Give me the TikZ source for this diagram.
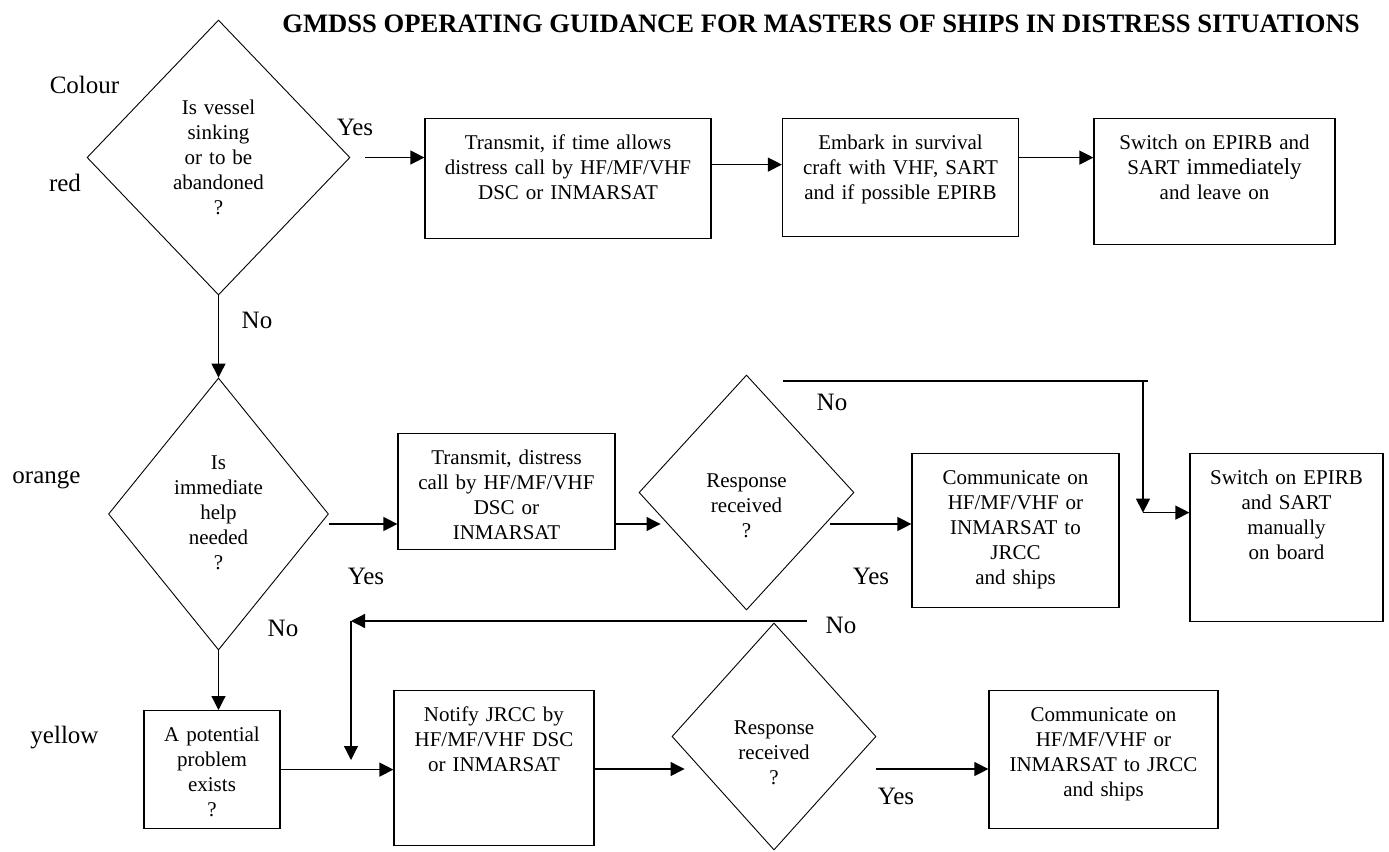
\documentclass[tikz,border=0pt]{standalone}
\usepackage{fontspec}
\setmainfont{Liberation Serif}
\usetikzlibrary{shapes.geometric,arrows.meta}

\begin{document}
\begin{tikzpicture}[x=0.5pt,y=-0.5pt,line width=0.6pt,
    >={Triangle[length=7pt,width=7pt]},
    box/.style={draw,rectangle,anchor=north,inner sep=0pt,text height=15.5pt,
      align=center,font=\fontsize{10.5}{12.5}\selectfont},
    ask/.style={draw,diamond,inner sep=0pt,line width=0.45pt,text height=5pt,
      text width=50pt,align=center,font=\fontsize{10.5}{12.5}\selectfont},
    tag/.style={inner sep=0pt,font=\fontsize{12.5}{15}\selectfont}]
    \useasboundingbox (0,0) rectangle (1389,852);

    \node[font=\bfseries\fontsize{13.3}{16}\selectfont] (title) at (821,24)
      {GMDSS OPERATING GUIDANCE FOR MASTERS OF SHIPS IN DISTRESS SITUATIONS};

    \node[tag] (colour) at (84.5,85) {Colour};
    \node[tag] (red) at (65,183) {red};
    \node[tag] (orange) at (46.5,480) {orange};
    \node[tag] (yellow) at (64.5,738) {yellow};

    \node[ask,minimum width=131.5pt,minimum height=137.5pt,text depth=48.5pt] (d1) at (218.5,157.5)
      {Is vessel\\sinking\\or to be\\abandoned\\?};
    \node[ask,minimum width=110pt,minimum height=136pt,text depth=50pt] (d2) at (218.5,514)
      {Is\\immediate\\help\\needed\\?};
    \node[ask,minimum width=107.5pt,minimum height=117.5pt,text depth=10.5pt] (d3) at (746.5,492.5)
      {Response\\received\\?};
    \node[ask,minimum width=102pt,minimum height=113.5pt,text depth=7.5pt] (d4) at (774,736.5)
      {Response\\received\\?};

    \node[box,text width=143pt,text depth=44.5pt] (t1) at (568,118)
      {Transmit, if time allows\\distress call by HF/MF/VHF\\DSC or INMARSAT};
    \node[box,text width=118pt,text depth=43.5pt] (e) at (900.5,118)
      {Embark in survival\\craft with VHF, SART\\and if possible EPIRB};
    \node[box,text width=120.5pt,text depth=47.5pt] (s) at (1214.5,118)
      {Switch on EPIRB and\\SART {\fontsize{11.5}{12.5}\selectfont immediately}\\and leave on};
    \node[box,text width=108.5pt,text depth=42.5pt] (t2) at (506.5,433)
      {Transmit, distress\\call by HF/MF/VHF\\DSC or\\INMARSAT};
    \node[box,text width=103.5pt,text depth=61.5pt] (c1) at (1015.5,453)
      {Communicate on\\HF/MF/VHF or\\INMARSAT to\\JRCC\\and ships};
    \node[box,text width=96.5pt,text depth=68.5pt] (s2) at (1286.5,453)
      {Switch on EPIRB\\and SART\\manually\\on board};
    \node[box,text width=68pt,text depth=43.5pt] (p) at (212,710)
      {A potential\\problem\\exists\\?};
    \node[box,text width=100pt,text depth=62pt] (n) at (494,690)
      {Notify JRCC by\\HF/MF/VHF DSC\\or INMARSAT};
    \node[box,text width=114.5pt,text depth=53.5pt] (c2) at (1103.5,690)
      {Communicate on\\HF/MF/VHF or\\INMARSAT to JRCC\\and ships};

    \node[tag] (yes1) at (355,127) {Yes};
    \node[tag] (yes2) at (366,576) {Yes};
    \node[tag] (yes3) at (871,576) {Yes};
    \node[tag] (yes4) at (896,796) {Yes};
    \node[tag] (no1) at (257,320) {No};
    \node[tag] (no2) at (283,628) {No};
    \node[tag] (no3) at (832,402) {No};
    \node[tag] (no4) at (841,625) {No};

    \coordinate (row2) at (0,524);
    \coordinate (row3) at (0,769);
    \coordinate (d3in) at ([xshift=11pt]d3.west);
    \coordinate (d3out) at ([xshift=-12pt]d3.east);
    \coordinate (d4in) at ([xshift=6.5pt]d4.west);
    \coordinate (s2in) at ([yshift=12.5pt]s2.west);
    \coordinate (up1) at (783,381);
    \coordinate (up2) at (1143,381);
    \coordinate (lp1) at (807,621);
    \coordinate (lp2) at (351,621);
    \coordinate (lp3) at (351,760);

    \draw[->] ([xshift=7.5pt]d1.east) -- (d1.east -| t1.west);
    \draw[->] ([yshift=7pt]t1.east) -- ([yshift=7pt]t1.east -| e.west);
    \draw[->] ([yshift=10pt]e.east) -- ([yshift=10pt]e.east -| s.west);
    \draw[->] (d1.south) -- (d2.north);
    \draw[->] (d2.east |- row2) -- (t2.west |- row2);
    \draw[->] (t2.east |- row2) -- (d3in |- row2);
    \draw[->] (d3out |- row2) -- (c1.west |- row2);
    \draw (up1) -- ([xshift=2.5pt]up2);
    \draw[->] (up2) -- (up2 |- s2in);
    \draw[->] (up2 |- s2in) -- (s2in);
    \draw[->] (d2.south) -- (d2.south |- p.north);
    \draw[->] (p.east) -- (p.east -| n.west);
    \draw[->] (lp1) -- (lp2);
    \draw[->] (lp2) -- (lp3);
    \draw[->] (n.east |- row3) -- (d4in |- row3);
    \draw[->] (d4.east |- row3) -- (c2.west |- row3);
  \end{tikzpicture}
\end{document}
